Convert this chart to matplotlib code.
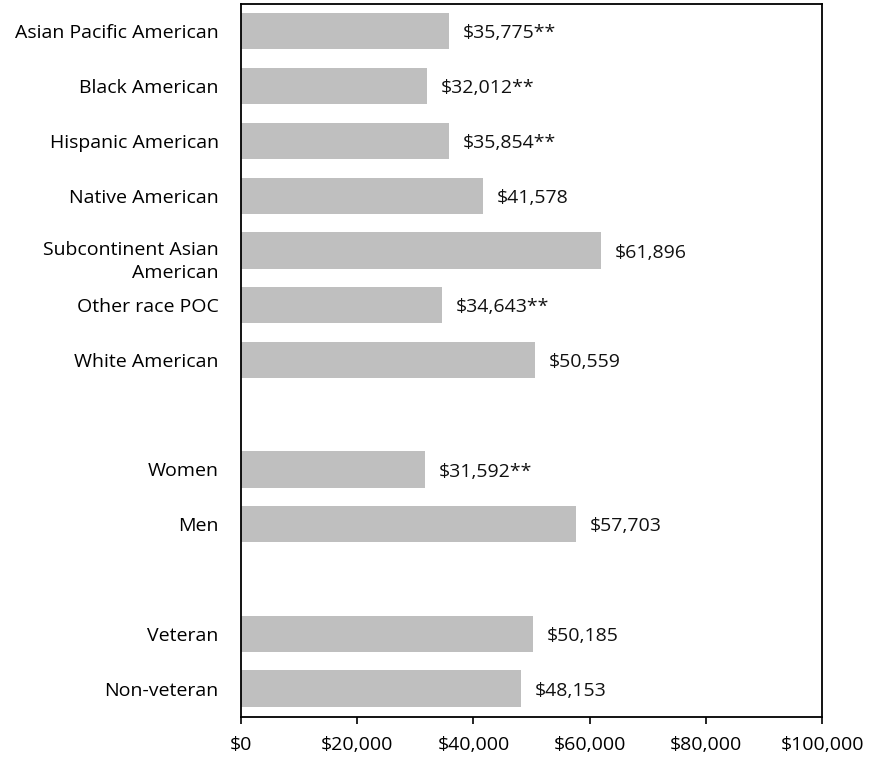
import matplotlib
matplotlib.use("Agg")
import matplotlib.pyplot as plt
from matplotlib.transforms import ScaledTranslation

plt.rcParams['font.family'] = ['Open Sans', 'DejaVu Sans']

# Median earnings by group
race_labels = ["Asian Pacific American", "Black American", "Hispanic American",
               "Native American", "Subcontinent Asian\nAmerican", "Other race POC",
               "White American"]
race_values = [35775, 32012, 35854, 41578, 61896, 34643, 50559]
race_sig = [True, True, True, False, False, True, False]

gender_labels = ["Women", "Men"]
gender_values = [31592, 57703]
gender_sig = [True, False]

veteran_labels = ["Veteran", "Non-veteran"]
veteran_values = [50185, 48153]
veteran_sig = [False, False]

x_ticks = [0, 20000, 40000, 60000, 80000, 100000]

groups = [(race_labels, race_values, race_sig),
          (gender_labels, gender_values, gender_sig),
          (veteran_labels, veteran_values, veteran_sig)]

labels, values, sig, slots = [], [], [], []
slot = 0
for gi, (lab, val, s) in enumerate(groups):
    if gi > 0:
        slot += 1  # blank row between groups
    for l, v, f in zip(lab, val, s):
        labels.append(l)
        values.append(v)
        sig.append(f)
        slots.append(slot)
        slot += 1

FS = 14

fig = plt.figure(figsize=(8.72, 7.61), dpi=100)
ax = fig.add_axes([241/872, 1-717/761, (822-241)/872, (717-4)/761])

ax.barh(slots, values, height=0.66, color="#BFBFBF", edgecolor="none")
ax.set_ylim(slot - 0.5 + 0.02, -0.5)
ax.set_xlim(0, 100000)

for y, v, f in zip(slots, values, sig):
    txt = "${:,}".format(v) + ("**" if f else "")
    ax.annotate(txt, (v, y), xytext=(10, -1.5), textcoords="offset points",
                va="center", ha="left", fontsize=FS, color="#111111")

ax.set_yticks(slots)
ax.set_yticklabels(labels, fontsize=FS, ha="right", multialignment="right",
                   linespacing=1.3)
ax.tick_params(axis="y", length=0, pad=16)
# two-line category label sits slightly below its bar centre
for tl in ax.get_yticklabels():
    if "\n" in tl.get_text():
        tl.set_transform(tl.get_transform() +
                         ScaledTranslation(0, -0.07, fig.dpi_scale_trans))

ax.set_xticks(x_ticks)
ax.set_xticklabels(["${:,}".format(t) for t in x_ticks], fontsize=FS)
ax.tick_params(axis="x", direction="out", length=5, width=1.2, pad=9)

for sp in ax.spines.values():
    sp.set_linewidth(1.3)
    sp.set_color("black")

fig.savefig("out.png", dpi=100)
